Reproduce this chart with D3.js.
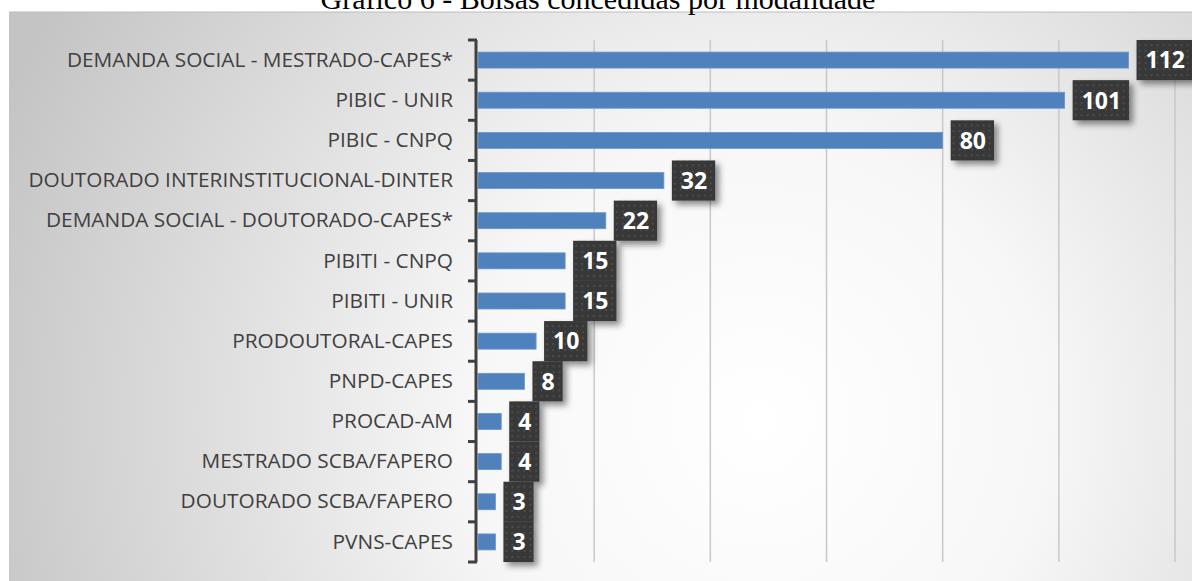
<!DOCTYPE html>
<html>
<head>
<meta charset="utf-8">
<script src="https://cdn.jsdelivr.net/npm/d3@7"></script>
<style>
  body { margin: 0; background: #fff; }
  svg { display: block; }
</style>
</head>
<body>
<div id="chart-area"></div>
<script>
// Data
var categories = [
    "DEMANDA SOCIAL - MESTRADO-CAPES*",
    "PIBIC - UNIR",
    "PIBIC - CNPQ",
    "DOUTORADO INTERINSTITUCIONAL-DINTER",
    "DEMANDA SOCIAL - DOUTORADO-CAPES*",
    "PIBITI - CNPQ",
    "PIBITI - UNIR",
    "PRODOUTORAL-CAPES",
    "PNPD-CAPES",
    "PROCAD-AM",
    "MESTRADO SCBA/FAPERO",
    "DOUTORADO SCBA/FAPERO",
    "PVNS-CAPES"
];
var values = [112, 101, 80, 32, 22, 15, 15, 10, 8, 4, 4, 3, 3];
var xTicks = [0, 20, 40, 60, 80, 100, 120];
var title = "Gráfico 6 - Bolsas concedidas por modalidade";

var W = 1192, H = 581;
var margin = { left: 478, right: 17, top: 40, bottom: 19 };
var width = W - margin.left - margin.right,
    height = H - margin.top - margin.bottom;

var svg = d3.select("#chart-area")
    .append("svg")
        .attr("width", W)
        .attr("height", H);

var defs = svg.append("defs");

// background gradient
var grad = defs.append("radialGradient")
    .attr("id", "bg")
    .attr("gradientUnits", "userSpaceOnUse")
    .attr("cx", 760).attr("cy", 420).attr("r", 820);
grad.append("stop").attr("offset", "0%").attr("stop-color", "#ffffff");
grad.append("stop").attr("offset", "35%").attr("stop-color", "#f7f7f7");
grad.append("stop").attr("offset", "100%").attr("stop-color", "#c4c4c4");

// dotted pattern for label boxes
var pat = defs.append("pattern")
    .attr("id", "dots")
    .attr("patternUnits", "userSpaceOnUse")
    .attr("width", 6).attr("height", 6);
pat.append("rect").attr("width", 6).attr("height", 6).attr("fill", "#383838");
pat.append("circle").attr("cx", 3).attr("cy", 3).attr("r", 0.9).attr("fill", "#555555");

var shadow = defs.append("filter")
    .attr("id", "shadow")
    .attr("x", "-30%").attr("y", "-30%")
    .attr("width", "170%").attr("height", "170%");
shadow.append("feDropShadow")
    .attr("dx", 4).attr("dy", 4)
    .attr("stdDeviation", 3)
    .attr("flood-color", "#000")
    .attr("flood-opacity", 0.45);

// panel
svg.append("rect")
    .attr("x", 9).attr("y", 12)
    .attr("width", W - 9).attr("height", H - 12)
    .attr("fill", "url(#bg)");
svg.append("line")
    .attr("x1", 9).attr("x2", W)
    .attr("y1", 12).attr("y2", 12)
    .attr("stroke", "#bdbdbd");

// title (cut at the top in the original)
svg.append("text")
    .attr("x", 598)
    .attr("y", 9)
    .attr("text-anchor", "middle")
    .attr("font-family", "Liberation Serif, Times New Roman, serif")
    .attr("font-size", "30px")
    .attr("fill", "#000")
    .text(title);

var g = svg.append("g")
    .attr("transform", "translate(" + margin.left + "," + margin.top + ")");

// scales
var x = d3.scaleLinear().domain([0, 120]).range([0, width]);
var y = d3.scaleBand().domain(categories).range([0, height]).paddingInner(0).paddingOuter(0);

// grid
g.append("g")
    .attr("class", "grid")
    .selectAll("line")
    .data(xTicks.slice(1))
    .enter()
    .append("line")
        .attr("x1", function(d){ return x(d); })
        .attr("x2", function(d){ return x(d); })
        .attr("y1", 0)
        .attr("y2", height)
        .attr("stroke", "#c8c8c8")
        .attr("stroke-width", 1.5);

// bars
var barH = 16;
g.selectAll("rect.bar")
    .data(values)
    .enter()
    .append("rect")
        .attr("class", "bar")
        .attr("x", x(0))
        .attr("y", function(d, i){ return y(categories[i]) + y.bandwidth() / 2 - barH / 2; })
        .attr("width", function(d){ return x(d) - x(0); })
        .attr("height", barH)
        .attr("fill", "#4f81bd")
        .attr("stroke", "#6b96cc")
        .attr("stroke-width", 0.8);

// y axis (bracket style ticks)
var yAxisCall = d3.axisLeft(y).tickSize(0).tickPadding(25);
var yAxisGroup = g.append("g").attr("class", "y axis").call(yAxisCall);
yAxisGroup.select(".domain").remove();
yAxisGroup.selectAll("text")
    .attr("font-family", "Open Sans, sans-serif")
    .attr("font-size", "20.8px")
    .attr("fill", "#404040");

var bounds = d3.range(categories.length + 1).map(function(i){
    return i * y.step();
});
g.append("line")
    .attr("x1", -2).attr("x2", -2)
    .attr("y1", 0).attr("y2", height)
    .attr("stroke", "#404040")
    .attr("stroke-width", 3);
g.selectAll("line.ytick")
    .data(bounds)
    .enter()
    .append("line")
        .attr("class", "ytick")
        .attr("x1", -10).attr("x2", -1)
        .attr("y1", function(d){ return d; })
        .attr("y2", function(d){ return d; })
        .attr("stroke", "#404040")
        .attr("stroke-width", 3);

// data labels
var labels = g.selectAll("g.label")
    .data(values)
    .enter()
    .append("g")
        .attr("class", "label")
        .attr("transform", function(d, i){
            return "translate(" + (x(d) + 8) + "," + (y(categories[i]) + y.bandwidth() / 2) + ")";
        });

labels.append("text")
    .attr("x", 9)
    .attr("dy", "0.36em")
    .attr("font-family", "Open Sans, sans-serif")
    .attr("font-weight", "bold")
    .attr("font-size", "23px")
    .attr("fill", "#fff")
    .text(function(d){ return d; });

labels.each(function(){
    var lab = d3.select(this);
    var bb = lab.select("text").node().getBBox();
    lab.insert("rect", "text")
        .attr("x", 0)
        .attr("y", -y.bandwidth() / 2)
        .attr("width", bb.width + 17)
        .attr("height", y.bandwidth())
        .attr("fill", "url(#dots)")
        .attr("filter", "url(#shadow)");
});
</script>
</body>
</html>
